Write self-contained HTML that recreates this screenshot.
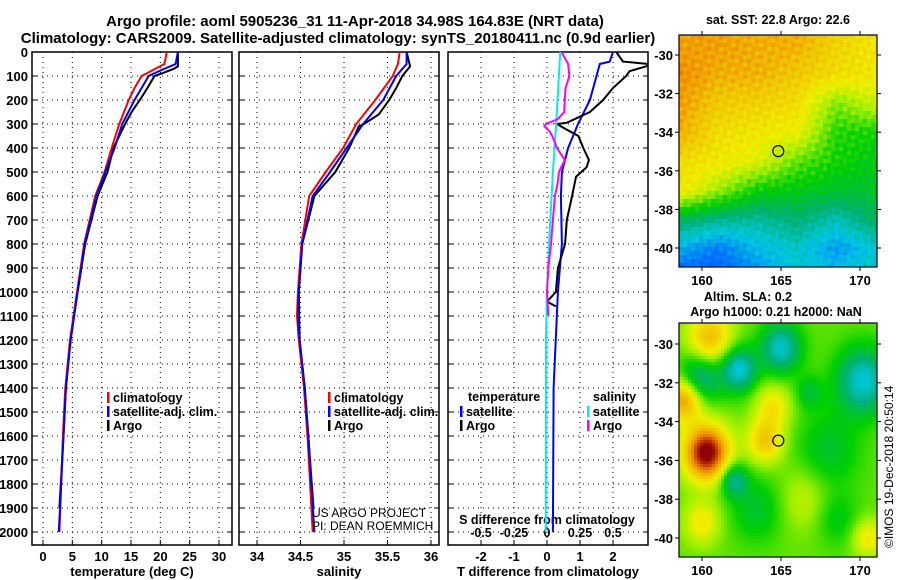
<!DOCTYPE html>
<html><head><meta charset="utf-8">
<style>
html,body{margin:0;padding:0;background:#fff;}
svg{display:block;font-family:"Liberation Sans",sans-serif;}
.b{font-weight:bold;}
</style></head>
<body>
<svg id="c" width="900" height="580" viewBox="0 0 900 580">
<text x="355" y="26" text-anchor="middle" class="b" font-size="15">Argo profile: aoml 5905236_31 11-Apr-2018 34.98S 164.83E (NRT data)</text>
<text x="338" y="43" text-anchor="middle" class="b" font-size="15">Climatology: CARS2009. Satellite-adjusted climatology: synTS_20180411.nc (0.9d earlier)</text>
<g id="p1"></g>
<g id="p2"></g>
<g id="p3"></g>
<g id="m1"></g>
<g id="m2"></g>
</svg>
<script>
// ---- profile data (depth in m) ----
const depthsClimT = [0,50,100,150,200,300,400,500,600,800,1000,1200,1400,1600,2000];
const climT = [21.1,20.7,16.8,15.6,14.6,13.0,11.7,10.5,8.9,7.0,5.8,4.6,3.8,3.4,2.8];
const depthsSatT = [0,50,75,100,150,200,300,400,500,600,800,1000,1200,1400,1600,2000];
const satT = [23.0,22.6,20.2,18.0,16.8,15.6,13.5,12.2,10.6,9.1,7.1,5.9,4.7,3.9,3.5,2.7];
const depthsArgoT = [0,60,70,90,100,150,200,250,300,400,500,600,800,1000,1200,1400,1600,1900];
const argoT = [23.0,23.0,22.3,20.2,19.0,17.8,16.5,15.1,14.0,12.0,11.0,9.3,7.2,5.9,4.7,3.9,3.5,2.8];

const depthsClimS = [0,50,100,200,300,400,500,600,800,1000,1100,1200,1400,1600,2000];
const climS = [35.64,35.62,35.56,35.36,35.14,34.99,34.79,34.60,34.51,34.47,34.46,34.48,34.54,34.58,34.64];
const depthsSatS = [0,50,100,200,300,400,500,600,800,1000,1100,1200,1400,1600,2000];
const satS = [35.72,35.72,35.60,35.45,35.22,35.03,34.84,34.64,34.52,34.48,34.47,34.49,34.55,34.59,34.66];
const depthsArgoS = [0,60,100,150,200,260,300,310,400,500,600,800,1000,1200,1400,1600,1900];
const argoS = [35.72,35.76,35.67,35.60,35.52,35.40,35.23,35.17,35.06,34.90,34.66,34.52,34.48,34.49,34.55,34.59,34.65];

const depthsDSatT = [0,40,50,100,200,300,400,500,600,800,1000,1400,2000];
const dSatT = [2.0,1.9,1.6,1.5,1.3,0.94,0.64,0.45,0.42,0.45,0.33,0.2,0.18];
const depthsDArgoT = [0,40,50,60,80,100,150,200,250,295,300,320,350,400,450,480,520,600,700,800,900,1000,1040,1060];
const dArgoT = [2.1,2.3,3.1,3.0,2.5,2.4,2.0,1.7,1.3,0.6,0.3,0.55,0.95,1.1,1.27,1.2,0.88,0.76,0.6,0.55,0.33,0.27,0.0,0.27];
const depthsDSatS = [0,100,300,500,800,1000,1200,2000];
const dSatS = [0.1,0.09,0.07,0.045,0.015,0.0,-0.008,-0.01];
const depthsDArgoS = [0,30,50,100,150,200,250,280,300,310,330,350,400,450,500,550,600,700,800,900,1000,1100];
const dArgoS = [0.11,0.14,0.16,0.17,0.14,0.135,0.13,0.08,-0.01,-0.02,0.02,0.04,0.075,0.135,0.09,0.08,0.06,0.045,0.03,0.01,0.0,0.01];

const depthTicks = [0,100,200,300,400,500,600,700,800,900,1000,1100,1200,1300,1400,1500,1600,1700,1800,1900,2000];
const tTicks = [0,5,10,15,20,25,30];
const sTicks = [34,34.5,35,35.5,36];
const dtTicks = [-2,-1,0,1,2];
const dsTicks = [-0.5,-0.25,0,0.25,0.5];
const dsTickLabels = ["-0.5","-0.25","0","0.25","0.5"];

const NS='http://www.w3.org/2000/svg';
function el(tag,attrs,parent){const e=document.createElementNS(NS,tag);for(const k in attrs)e.setAttribute(k,attrs[k]);parent.appendChild(e);return e;}
const TOP=52, BOT=545;
const yD = d => TOP + d*0.24;
function lin(v0,p0,v1,p1){return v=>p0+(v-v0)*(p1-p0)/(v1-v0);}

function panel(g,x0,x1,xs,ticks,labels,xlab,clipId){
  el('rect',{x:x0,y:TOP,width:x1-x0,height:BOT-TOP,fill:'#fff',stroke:'#000','stroke-width':1.5},g);
  const cp=el('clipPath',{id:clipId},g);el('rect',{x:x0,y:TOP,width:x1-x0,height:BOT-TOP},cp);
  depthTicks.forEach(d=>{
    const l=el('line',{x1:x0,x2:x1,y1:yD(d),y2:yD(d),stroke:'#000','stroke-dasharray':'1 4'},g);
    
    
    el('line',{x1:x0,x2:x0+5,y1:yD(d),y2:yD(d),stroke:'#000'},g);
    el('line',{x1:x1,x2:x1-5,y1:yD(d),y2:yD(d),stroke:'#000'},g);
  });
  ticks.forEach((t,i)=>{
    const x=xs(t);
    const l=el('line',{x1:x,x2:x,y1:TOP,y2:BOT,stroke:'#000','stroke-dasharray':'1 4'},g);
    
    
    el('line',{x1:x,x2:x,y1:BOT,y2:BOT-5,stroke:'#000'},g);
    if(labels){const tx=el('text',{x:x,y:BOT+16,'text-anchor':'middle','font-size':13,'class':'b'},g);tx.textContent=labels[i];
      
      }
  });
  if(xlab){const t=el('text',{x:(x0+x1)/2,y:576,'text-anchor':'middle','font-size':13,'class':'b'},g);t.textContent=xlab;
    
    }
}
function line(g,depths,vals,xs,color,w,clipId,name){
  const pts=depths.map((d,i)=>xs(vals[i]).toFixed(1)+','+yD(d).toFixed(1)).join(' ');
  const p=el('polyline',{points:pts,fill:'none',stroke:color,'stroke-width':w,'clip-path':'url(#'+clipId+')'},g);
  
  
}
function legend(g,x,y,items){
  items.forEach((it,i)=>{
    el('rect',{x:x,y:y+i*14-6,width:2.5,height:11,fill:it[1]},g);
    const t=el('text',{x:x+6,y:y+i*14+4,'font-size':12.5,'class':'b'},g);t.textContent=it[0];
    
    
  });
}
// Panel 1
const p1=document.getElementById('p1');
const xT=lin(0,43,30,219);
panel(p1,32,232,xT,tTicks,tTicks.map(String),'temperature (deg C)','cp1');
depthTicks.forEach(d=>{const t=el('text',{x:28,y:yD(d)+5,'text-anchor':'end','font-size':13,'class':'b'},p1);t.textContent=d;
  
  });
line(p1,depthsArgoT,argoT,xT,'#000',2,'cp1','argo-temperature-line');
line(p1,depthsClimT,climT,xT,'#f00',2,'cp1','climatology-temperature-line');
line(p1,depthsSatT,satT,xT,'#00f',2,'cp1','satellite-temperature-line');
legend(p1,107,398,[['climatology','#f00'],['satellite-adj. clim.','#00f'],['Argo','#000']]);
// Panel 2
const p2=document.getElementById('p2');
const xS=lin(34,257,36,431);
panel(p2,239,439,xS,sTicks,['34','34.5','35','35.5','36'],'salinity','cp2');
line(p2,depthsArgoS,argoS,xS,'#000',2,'cp2','argo-salinity-line');
line(p2,depthsClimS,climS,xS,'#f00',2,'cp2','climatology-salinity-line');
line(p2,depthsSatS,satS,xS,'#00f',2,'cp2','satellite-salinity-line');
legend(p2,328,398,[['climatology','#f00'],['satellite-adj. clim.','#00f'],['Argo','#000']]);
[['US ARGO PROJECT',517],['PI: DEAN ROEMMICH',530]].forEach(a=>{const t=el('text',{x:312,y:a[1],'font-size':12},p2);t.textContent=a[0];
  
  });
// Panel 3
const p3=document.getElementById('p3');
const xDT=lin(0,547,2,613);
const xDS=lin(0,547,0.5,613);
panel(p3,448,648,xDT,dtTicks,dtTicks.map(String),'T difference from climatology','cp3');
dsTicks.forEach((t,i)=>{const tx=el('text',{x:xDS(t),y:537,'text-anchor':'middle','font-size':12.5,'class':'b'},p3);tx.textContent=dsTickLabels[i];
  
  });
{const t=el('text',{x:547,y:524,'text-anchor':'middle','font-size':12.5,'class':'b'},p3);t.textContent='S difference from climatology';
  
  }
line(p3,depthsDSatT,dSatT,xDT,'#00f',2,'cp3','satellite-t-diff-line');
line(p3,depthsDArgoT,dArgoT,xDT,'#000',2,'cp3','argo-t-diff-line');
line(p3,depthsDSatS,dSatS,xDS,'#0ee',2,'cp3','satellite-s-diff-line');
line(p3,depthsDArgoS,dArgoS,xDS,'#f0f',2,'cp3','argo-s-diff-line');
{const t=el('text',{x:468,y:401,'font-size':12.5,'class':'b'},p3);t.textContent='temperature';
 
 const u=el('text',{x:593,y:401,'font-size':12.5,'class':'b'},p3);u.textContent='salinity';
 }
legend(p3,460,412,[['satellite','#00f'],['Argo','#000']]);
legend(p3,587,412,[['satellite','#0ee'],['Argo','#f0f']]);

// ---- maps ----
const cmapStops=[[0,[0,32,160]],[0.2,[0,110,255]],[0.32,[0,200,224]],[0.42,[0,176,112]],[0.52,[0,208,0]],[0.62,[160,240,0]],[0.7,[240,240,0]],[0.8,[240,192,0]],[0.88,[240,128,0]],[1,[144,0,0]]];
function cmap(v){v=Math.max(0,Math.min(1,v));for(let i=1;i<cmapStops.length;i++){if(v<=cmapStops[i][0]){const a=cmapStops[i-1],b=cmapStops[i],f=(v-a[0])/(b[0]-a[0]);return 'rgb('+a[1].map((c,k)=>Math.round(c+(b[1][k]-c)*f)).join(',')+')';}}return 'rgb(144,0,0)';}
const sstLats=[-29.5,-31,-32.5,-34,-35.5,-37,-38.5,-40,-41];
const sstLons=[158.7,161,163.5,166,168.5,171];
const sstGrid=[[.84,.84,.82,.82,.76,.72],[.86,.82,.82,.78,.74,.72],[.84,.78,.76,.74,.6,.66],[.82,.74,.72,.7,.54,.53],[.74,.72,.68,.58,.53,.5],[.72,.62,.52,.5,.48,.48],[.44,.4,.38,.42,.36,.44],[.28,.22,.3,.34,.26,.33],[.2,.18,.26,.34,.3,.35]];
// SLA blobs: lon, lat, amplitude, sigma(deg)
const slaLon=[160.3,158.9,160.5,162.3,159.8,165,170.2,164,164.5,162,160,168,166.5,166.8,170.5,163.5,168.5];
const slaLat=[-35.6,-32.8,-29.7,-31.3,-31.8,-30.2,-31.9,-35,-33.2,-37,-39.2,-35.5,-38,-32.5,-40,-38.5,-39];
const slaAmp=[0.45,0.3,0.22,-0.26,-0.22,-0.24,-0.25,0.2,0.14,-0.2,0.14,-0.1,0.08,-0.1,0.14,-0.1,-0.08];
const slaSig=[1.0,0.8,1.0,0.8,0.9,0.9,1.2,0.8,0.8,0.6,0.8,1.4,1.2,0.6,0.7,1.2,1.0];

function drawMap(g,y0,y1,latTop,latBot,fn,cell,title,clipId,name){
  const x0=679,x1=877;
  const lonX=lin(160,702,170,860);
  const latY=lin(-30,latTop,-40,latBot);
  const cp=el('clipPath',{id:clipId},g);el('rect',{x:x0,y:y0,width:x1-x0,height:y1-y0},cp);
  const cg=el('g',{'clip-path':'url(#'+clipId+')'},g);
  
  
  for(let y=y0;y<y1;y+=cell){for(let x=x0;x<x1;x+=cell){
    const lon=160+(x+cell/2-702)*10/158, lat=-30-(y+cell/2-latTop)*10/(latBot-latTop);
    el('rect',{x:x,y:y,width:cell+0.5,height:cell+0.5,fill:cmap(fn(lon,lat))},cg);
  }}
  el('rect',{x:x0,y:y0,width:x1-x0,height:y1-y0,fill:'none',stroke:'#000','stroke-width':1.2},g);
  [160,165,170].forEach(l=>{const x=lonX(l);el('line',{x1:x,x2:x,y1:y0,y2:y0-4,stroke:'#000'},g);el('line',{x1:x,x2:x,y1:y1,y2:y1+4,stroke:'#000'},g);
    const t=el('text',{x:x,y:y1+18,'text-anchor':'middle','font-size':13,'class':'b'},g);t.textContent=l;
    });
  [-30,-32,-34,-36,-38,-40].forEach(l=>{const y=latY(l);el('line',{x1:x0,x2:x0-4,y1:y,y2:y,stroke:'#000'},g);el('line',{x1:x1,x2:x1+4,y1:y,y2:y,stroke:'#000'},g);
    const t=el('text',{x:x0-6,y:y+5,'text-anchor':'end','font-size':13,'class':'b'},g);t.textContent=l;
    });
  const c=el('circle',{cx:lonX(164.83),cy:latY(-34.98),r:5.5,fill:'none',stroke:'#000','stroke-width':1.2},g);
  
  
  title.forEach(tt=>{const t=el('text',{x:tt[1],y:tt[2],'text-anchor':'middle','font-size':12.5,'class':'b'},g);t.textContent=tt[0];
    });
}
function interp(arr,v){if(v<=arr[0])return [0,0];for(let i=1;i<arr.length;i++){if(v<=arr[i])return [i-1,(v-arr[i-1])/(arr[i]-arr[i-1])];}return [arr.length-2,1];}
function sstFn(lon,lat){
  const nl=sstLats.map(a=>-a);const [r,fr]=interp(nl,-lat);const [c,fc]=interp(sstLons,lon);
  const g=sstGrid;const a=g[r][c]*(1-fc)+g[r][c+1]*fc,b=g[r+1][c]*(1-fc)+g[r+1][c+1]*fc;
  return a*(1-fr)+b*fr+0.03*Math.sin(lon*7.3+lat*5.1)*Math.cos(lat*9.7-lon*3.3);
}
function slaFn(lon,lat){let v=0.58;for(let i=0;i<slaLon.length;i++){const dx=lon-slaLon[i],dy=lat-slaLat[i];v+=slaAmp[i]*Math.exp(-(dx*dx+dy*dy)/(2*slaSig[i]*slaSig[i]));}return v;}
drawMap(document.getElementById('m1'),35,267,55,248,sstFn,4,[['sat. SST: 22.8 Argo: 22.6',778,24]],'cm1','sst-map');
drawMap(document.getElementById('m2'),323,557,344,538,slaFn,3,[['Altim. SLA: 0.2',748,301],['Argo h1000: 0.21 h2000: NaN',776,316]],'cm2','sla-map');
{const t=el('text',{x:0,y:0,'font-size':12,transform:'translate(893,548) rotate(-90)'},document.getElementById('c'));t.textContent='©IMOS 19-Dec-2018 20:50:14';
 }
</script>
</body></html>
